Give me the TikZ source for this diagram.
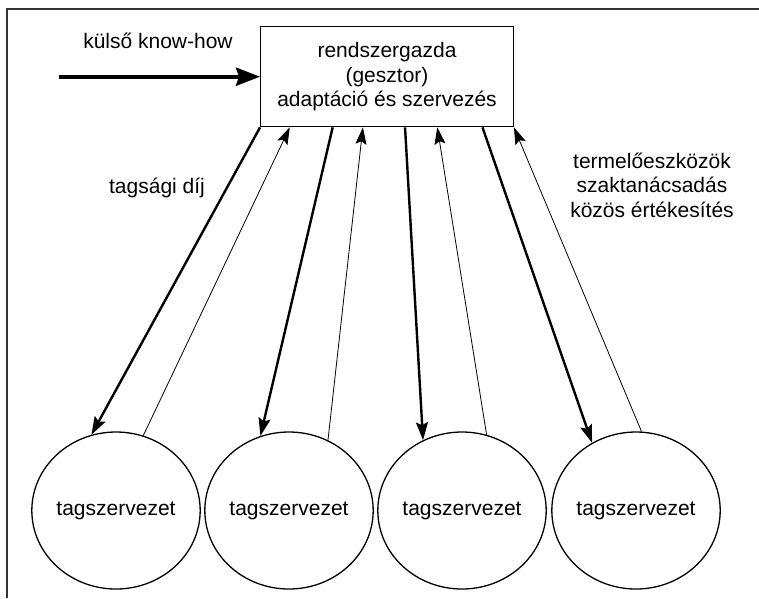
\documentclass[tikz,border=0pt]{standalone}
\usepackage{fontspec}
\setmainfont{Liberation Sans}
\usetikzlibrary{arrows.meta,shapes.geometric,calc}
\begin{document}
\begin{tikzpicture}[x=1pt,y=-1pt,
  lbl/.style={font=\fontsize{21}{24.5}\selectfont, inner sep=0pt, align=center},
  org/.style={draw, ellipse, line width=1.3pt, minimum width=155pt, minimum height=157pt, inner sep=0pt, font=\fontsize{21}{24.5}\selectfont},
  hub/.style={draw, line width=1.3pt, minimum width=252.6pt, minimum height=100pt, inner sep=0pt},
  down/.style={line width=2.4pt, -{Stealth[length=18pt,width=12pt,inset=3pt]}},
  up/.style={line width=0.8pt, -{Stealth[length=17pt,width=11pt,inset=3pt]}},
  big/.style={line width=4pt, -{Stealth[length=24pt,width=18pt,inset=3pt]}},
  frame/.style={line width=2pt, draw=black!80}]
\useasboundingbox (0,0) rectangle (759,598);
\draw[frame] (7,598) -- (7,9) -- (759,9);

\node[hub] (box) at (387,76.7) {};
\node[lbl] (boxtext) at (387,77) {rendszergazda\\(gesztor)\\adaptáció és szervezés};

\node[lbl, anchor=base] (kh) at (158,48) {külső know-how};
\coordinate (kstart) at (59,76.7);
\draw[big] (kstart) -- (box.west);

\node[lbl, anchor=base] (fee) at (157,193) {tagsági díj};
\node[lbl] (serv) at (652,185) {termelőeszközök\\szaktanácsadás\\közös értékesítés};

\node[org] (c1) at (116,510.5) {tagszervezet};
\node[org] (c2) at (289,510.5) {tagszervezet};
\node[org] (c3) at (462,510.5) {tagszervezet};
\node[org] (c4) at (636,510.5) {tagszervezet};

\coordinate (b1) at (box.south west);
\coordinate (b2) at ($(box.south west)!0.117!(box.south east)$);
\coordinate (b3) at ($(box.south west)!0.286!(box.south east)$);
\coordinate (b4) at ($(box.south west)!0.405!(box.south east)$);
\coordinate (b5) at ($(box.south west)!0.571!(box.south east)$);
\coordinate (b6) at ($(box.south west)!0.698!(box.south east)$);
\coordinate (b7) at ($(box.south west)!0.876!(box.south east)$);
\coordinate (b8) at (box.south east);

\draw[down] (b1) -- (c1.108);
\draw[up] (c1.70) -- (b2);
\draw[down] (b3) -- (c2.111);
\draw[up] (c2.61) -- (b4);
\draw[down] (b5) -- (c3.119);
\draw[up] (c3.72) -- (b6);
\draw[down] (b7) -- (c4.123);
\draw[up] (c4.86) -- (b8);
\end{tikzpicture}
\end{document}
